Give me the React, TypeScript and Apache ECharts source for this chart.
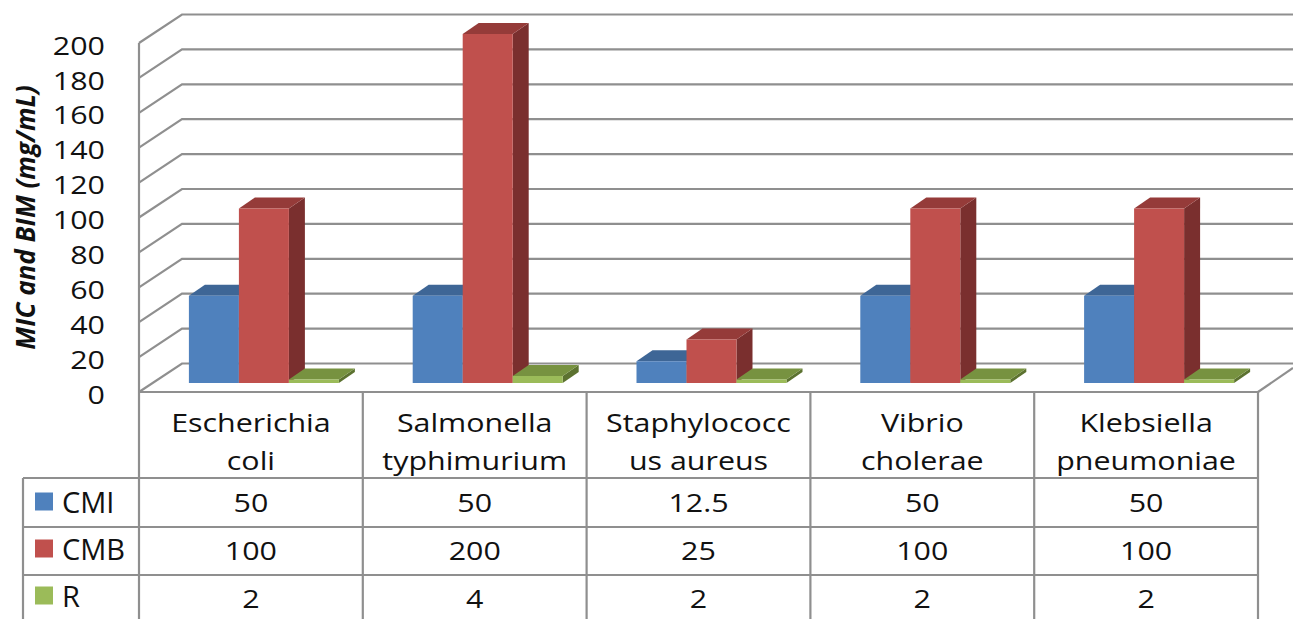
import React, { useEffect, useRef } from "react";
import * as echarts from "echarts";

const categories = ["Escherichia\ncoli", "Salmonella\ntyphimurium", "Staphylococc\nus aureus", "Vibrio\ncholerae", "Klebsiella\npneumoniae"];
const cmi = [50, 50, 12.5, 50, 50];
const cmb = [100, 200, 25, 100, 100];
const r = [2, 4, 2, 2, 2];
const yTicks = [0, 20, 40, 60, 80, 100, 120, 140, 160, 180, 200];
const seriesNames = ["CMI", "CMB", "R"];
const seriesValues = [cmi, cmb, r];
const fronts = ["#4F81BD", "#C0504D", "#9BBB59"];
const tops = ["#3E6696", "#953B39", "#779240"];
const sides = ["#2F4E73", "#7A2F2E", "#5C7230"];

const FONT = "'Open Sans'";
const INK = "#111111";
const LINE = "#8F8F8F";
const STRETCH = 1.17;
const BACK_DX = 43, BACK_DY = -28.5;
const FLOOR_DX = 13, FLOOR_DY = -9;
const BAR_W = 50, DEPTH_DX = 16, DEPTH_DY = -11;
const ROW_Y = [478, 527, 575];
const ROW_TEXT_Y = [502, 550, 598];
const TABLE_BOTTOM = 625;

const stretchedText = (text: string, x: number, y: number, align: string) => ({
  type: "text",
  x,
  y,
  scaleX: STRETCH,
  style: { text, x: 0, y: 0, align, verticalAlign: "middle", font: `26px ${FONT}`, lineHeight: 38, fill: INK },
});

const barRender = (s: number) => (params: any, api: any) => {
  const cat = api.value(0);
  const top = api.coord([cat, api.value(1)]);
  const base = api.coord([cat, 0]);
  const x = base[0] + FLOOR_DX - 75 + s * BAR_W;
  const y0 = base[1] + FLOOR_DY;
  const y1 = top[1] + FLOOR_DY;
  return {
    type: "group",
    children: [
      { type: "polygon", shape: { points: [[x + BAR_W, y0], [x + BAR_W + DEPTH_DX, y0 + DEPTH_DY], [x + BAR_W + DEPTH_DX, y1 + DEPTH_DY], [x + BAR_W, y1]] }, style: { fill: sides[s] } },
      { type: "polygon", shape: { points: [[x, y1], [x + BAR_W, y1], [x + BAR_W + DEPTH_DX, y1 + DEPTH_DY], [x + DEPTH_DX, y1 + DEPTH_DY]] }, style: { fill: tops[s] } },
      { type: "rect", shape: { x, y: y1, width: BAR_W, height: y0 - y1 }, style: { fill: fronts[s] } },
    ],
  };
};

const wallRender = (params: any, api: any) => {
  const cs = params.coordSys;
  const tick = api.value(0);
  const y = api.coord([0, tick])[1];
  return {
    type: "group",
    children: [
      {
        type: "polyline",
        shape: { points: [[cs.x, y], [cs.x + BACK_DX, y + BACK_DY], [1293, y + BACK_DY]] },
        style: { stroke: LINE, lineWidth: 2.2, fill: "none" },
      },
      stretchedText(String(tick), 105, y + 1.5, "right"),
    ],
  };
};

const frameRender = (params: any) => {
  const cs = params.coordSys;
  const left = cs.x;
  const right = cs.x + cs.width;
  const bottom = cs.y + cs.height;
  const step = cs.width / categories.length;
  const children: any[] = [];
  const ln = (x1: number, y1: number, x2: number, y2: number) =>
    children.push({ type: "line", shape: { x1, y1, x2, y2 }, style: { stroke: LINE, lineWidth: 2.2 } });
  ln(left, cs.y, left, TABLE_BOTTOM);
  ln(left, bottom, right, bottom);
  ln(right, bottom, 1293, bottom - 24);
  for (let i = 1; i <= categories.length; i++) ln(left + i * step, bottom, left + i * step, TABLE_BOTTOM);
  ROW_Y.forEach((y) => ln(23, y, right, y));
  ln(23, ROW_Y[0], 23, TABLE_BOTTOM);
  return { type: "group", children };
};

const categoryRender = (params: any, api: any) => {
  const cat = api.value(0);
  return stretchedText(categories[cat], api.coord([cat, 0])[0], 441, "center");
};

const cellRender = (params: any, api: any) => {
  const cat = api.value(1);
  return stretchedText(String(api.value(2)), api.coord([cat, 0])[0], ROW_TEXT_Y[api.value(0)], "center");
};

const cellData: number[][] = [];
seriesValues.forEach((vals, row) => vals.forEach((v, c) => cellData.push([row, c, v])));

export default function App() {
  const ref = useRef<HTMLDivElement>(null);
  useEffect(() => {
    const chart = echarts.init(ref.current!, undefined, { renderer: "svg" });
    chart.setOption({
      animation: false,
      backgroundColor: "#fff",
      grid: { left: 139, top: 43, width: 1119, height: 349, containLabel: false, outerBoundsMode: "none" },
      legend: {
        orient: "vertical",
        left: 30,
        top: 482,
        height: 200,
        itemWidth: 18,
        itemHeight: 18,
        itemGap: 18,
        selectedMode: false,
        data: seriesNames.map((name, i) => ({ name, icon: "rect", itemStyle: { color: fronts[i] } })),
        textStyle: { fontFamily: FONT, fontSize: 29, color: INK, padding: [0, 0, 0, 4] },
      },
      xAxis: {
        type: "category",
        data: categories,
        axisLine: { show: false },
        axisTick: { show: false },
        splitLine: { show: false },
        axisLabel: { show: false },
      },
      yAxis: {
        type: "value",
        min: 0,
        max: 200,
        interval: 20,
        name: "MIC and BIM (mg/mL)",
        nameLocation: "middle",
        nameRotate: 90,
        nameGap: 101,
        nameTextStyle: { fontFamily: FONT, fontSize: 26, fontWeight: "bold", fontStyle: "italic", color: INK },
        axisLine: { show: false },
        axisTick: { show: false },
        splitLine: { show: false },
        axisLabel: { show: false },
      },
      series: [
        { type: "custom", name: "walls", coordinateSystem: "cartesian2d", clip: false, silent: true, renderItem: wallRender, data: yTicks.map((t) => [t]), encode: { y: 0 }, z: 1 },
        { type: "custom", name: "frame", coordinateSystem: "cartesian2d", clip: false, silent: true, renderItem: frameRender, data: [[0]], z: 1 },
        ...seriesNames.map((name, s) => ({
          type: "custom",
          name,
          coordinateSystem: "cartesian2d",
          clip: false,
          silent: true,
          itemStyle: { color: fronts[s] },
          renderItem: barRender(s),
          data: seriesValues[s].map((v, i) => [i, v]),
          encode: { x: 0, y: 1 },
          z: 2 + s,
        })),
        { type: "custom", name: "categoryLabels", coordinateSystem: "cartesian2d", clip: false, silent: true, renderItem: categoryRender, data: categories.map((_, i) => [i]), z: 6 },
        { type: "custom", name: "cells", coordinateSystem: "cartesian2d", clip: false, silent: true, renderItem: cellRender, data: cellData, z: 6 },
      ],
    });
    return () => chart.dispose();
  }, []);
  return <div ref={ref} style={{ position: "fixed", left: 0, top: 0, width: 1293, height: 619 }} />;
}
